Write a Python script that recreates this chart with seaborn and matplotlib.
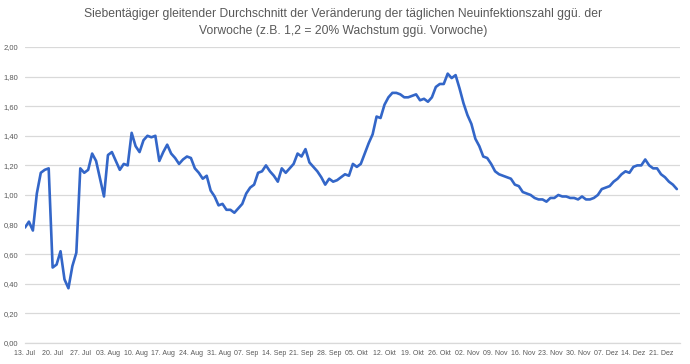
import seaborn as sns
import matplotlib.pyplot as plt
import pandas as pd

start_date = '2020-07-13'
values = [
    0.78, 0.82, 0.76, 1.01, 1.15, 1.17, 1.18, 0.51, 0.53, 0.62,
    0.43, 0.37, 0.52, 0.61, 1.18, 1.15, 1.17, 1.28, 1.23, 1.11,
    0.99, 1.27, 1.29, 1.23, 1.17, 1.21, 1.20, 1.42, 1.33, 1.29,
    1.37, 1.40, 1.39, 1.40, 1.23, 1.29, 1.34, 1.28, 1.25, 1.21,
    1.24, 1.26, 1.25, 1.18, 1.15, 1.11, 1.13, 1.03, 0.99, 0.93,
    0.94, 0.90, 0.90, 0.88, 0.91, 0.94, 1.01, 1.05, 1.07, 1.15,
    1.16, 1.20, 1.16, 1.13, 1.09, 1.18, 1.15, 1.18, 1.21, 1.28,
    1.26, 1.31, 1.22, 1.19, 1.16, 1.12, 1.07, 1.11, 1.09, 1.10,
    1.12, 1.14, 1.13, 1.21, 1.19, 1.21, 1.28, 1.35, 1.41, 1.53,
    1.52, 1.61, 1.66, 1.69, 1.69, 1.68, 1.66, 1.66, 1.67, 1.68,
    1.64, 1.65, 1.63, 1.66, 1.73, 1.75, 1.75, 1.82, 1.79, 1.81,
    1.72, 1.62, 1.54, 1.48, 1.38, 1.33, 1.26, 1.25, 1.21, 1.16,
    1.14, 1.13, 1.12, 1.11, 1.07, 1.06, 1.02, 1.01, 1.00, 0.98,
    0.97, 0.97, 0.955, 0.98, 0.98, 1.00, 0.99, 0.99, 0.98, 0.98,
    0.97, 0.99, 0.97, 0.97, 0.98, 1.00, 1.04, 1.05, 1.06, 1.09,
    1.11, 1.14, 1.16, 1.15, 1.19, 1.20, 1.20, 1.24, 1.20, 1.18,
    1.18, 1.14, 1.12, 1.09, 1.07, 1.04,
]
week_labels = ['13. Jul', '20. Jul', '27. Jul', '03. Aug', '10. Aug', '17. Aug',
               '24. Aug', '31. Aug', '07. Sep', '14. Sep', '21. Sep', '28. Sep',
               '05. Okt', '12. Okt', '19. Okt', '26. Okt', '02. Nov', '09. Nov',
               '16. Nov', '23. Nov', '30. Nov', '07. Dez', '14. Dez', '21. Dez']
y_ticks = [0.0, 0.2, 0.4, 0.6, 0.8, 1.0, 1.2, 1.4, 1.6, 1.8, 2.0]

title = ('Siebentägiger gleitender Durchschnitt der Veränderung der täglichen Neuinfektionszahl ggü. der\n'
         'Vorwoche (z.B. 1,2 = 20% Wachstum ggü. Vorwoche)')

df = pd.DataFrame({'datum': pd.date_range(start_date, periods=len(values)), 'wert': values})
tick_dates = pd.date_range(start_date, periods=len(week_labels), freq='7D')

sns.set_style('white')
plt.rcParams['font.family'] = ['Liberation Sans', 'DejaVu Sans']
grey = '#595959'

fig = plt.figure(figsize=(6.9, 3.64), dpi=100)
ax = fig.add_axes([0.0362, 0.0577, 0.9493, 0.8132])

sns.lineplot(data=df, x='datum', y='wert', ax=ax, color='#3366c8', linewidth=1.9)

ax.set_ylim(0, 2)
ax.set_yticks(y_ticks)
ax.set_yticklabels([f'{v:.2f}'.replace('.', ',') for v in y_ticks], color=grey, fontsize=5.5)
ax.set_xlim(df['datum'].iloc[0], df['datum'].iloc[0] + pd.Timedelta(days=165.8))
ax.set_xticks(tick_dates)
ax.set_xticklabels(week_labels, color=grey, fontsize=5.0)
ax.grid(axis='y', color='#d9d9d9', linewidth=0.9)
ax.set_axisbelow(True)
ax.set_xlabel('')
ax.set_ylabel('')

for s in ['top', 'right', 'left']:
    ax.spines[s].set_visible(False)
ax.spines['bottom'].set_color('#d9d9d9')
ax.spines['bottom'].set_linewidth(0.9)
ax.tick_params(axis='x', length=3, color='#d9d9d9', pad=2)
ax.tick_params(axis='y', length=0, pad=5)

fig.text(0.497, 0.977, title, ha='center', va='top', fontsize=8.7, color=grey, linespacing=1.5)

plt.savefig('out.png', dpi=100)
